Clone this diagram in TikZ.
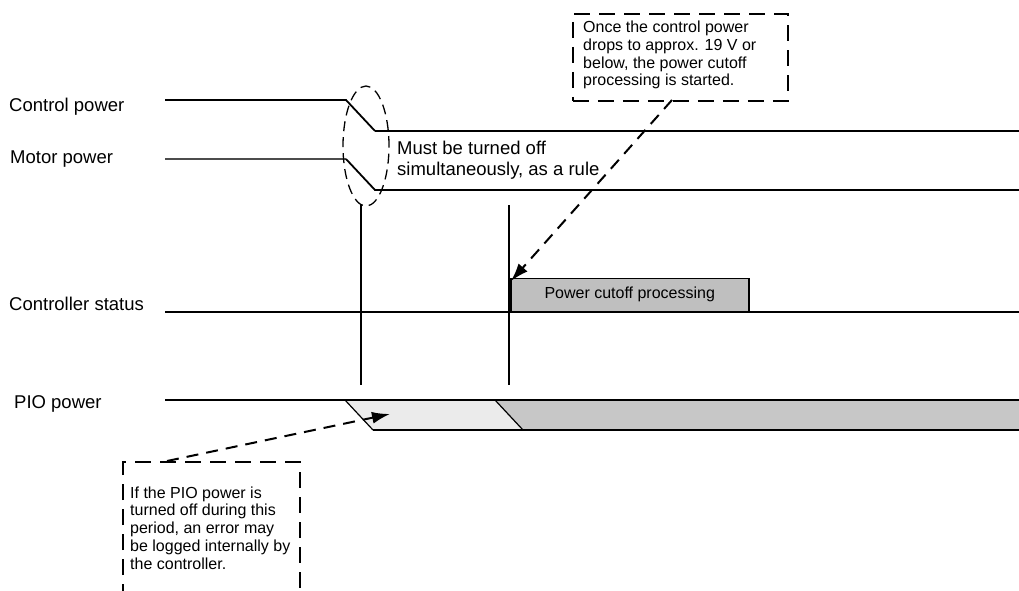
\documentclass[tikz,border=0pt]{standalone}
\usepackage{fontspec}
\setmainfont{Liberation Sans}
\usetikzlibrary{arrows.meta,shapes.geometric}
\begin{document}
\begin{tikzpicture}[x=1pt,y=-1pt,
  lbl/.style={anchor=west,inner sep=0pt,font=\fontsize{18.5}{21}\selectfont},
  note/.style={anchor=west,inner sep=0pt,align=left,font=\fontsize{16}{17.8}\selectfont},
  sig/.style={line width=1.8pt},
  thinsig/.style={line width=1.1pt,draw=black!70},
  callout/.style={line width=1.5pt,dash pattern=on 16pt off 9pt},
  pointer/.style={line width=2pt,dash pattern=on 12pt off 8pt,-{Latex[length=18pt,width=12pt]}},
  marker/.style={line width=1.2pt},
]
\path[use as bounding box] (0,0) rectangle (1019,590);
\clip (0,0) rectangle (1019,590);

% labels
\node[lbl] (lcp) at (9,107) {Control power};
\node[lbl] (lmp) at (10,159) {Motor power};
\node[lbl] (lcs) at (9,304) {Controller status};
\node[lbl] (lpio) at (14,404) {PIO power};

% coordinates
\coordinate (cp0) at (165,100); \coordinate (cp1) at (346,100);
\coordinate (cp2) at (375,131); \coordinate (cp3) at (1019,131);
\coordinate (mp0) at (165,159); \coordinate (mp1) at (346,159);
\coordinate (mp2) at (375,190); \coordinate (mp3) at (1019,190);
\coordinate (cs0) at (165,312); \coordinate (cs1) at (1019,312);
\coordinate (pp0) at (165,400); \coordinate (pp1) at (345,400);
\coordinate (pp2) at (373,430); \coordinate (pp3) at (1019,430);
\coordinate (pq1) at (495,400); \coordinate (pq2) at (523,430);
\coordinate (pp4) at (1019,400);

% PIO fills
\fill[black!8] (pp1) -- (pq1) -- (pq2) -- (pp2) -- cycle;
\fill[black!22] (pq1) -- (pp4) -- (pp3) -- (pq2) -- cycle;

% control power
\draw[sig] (cp0) -- (cp1) -- (cp2);
\draw[line width=1.3pt] (cp2) -- (cp3);
% motor power
\draw[thinsig] (mp0) -- (mp1);
\draw[sig] (mp1) -- (mp2) -- (mp3);
% controller status
\draw[sig] (cs0) -- (cs1);
% PIO power
\draw[sig] (pp0) -- (pp4);
\draw[marker] (pp1) -- (pp2);
\draw[sig] (pp2) -- (pp3);
\draw[marker] (pq1) -- (pq2);

% vertical markers
\coordinate (v1a) at (361,205); \coordinate (v1b) at (361,385);
\coordinate (v2a) at (509,205); \coordinate (v2b) at (509,385);
\draw[marker] (v1a) -- (v1b);
\draw[marker] (v2a) -- (v2b);

% power cutoff processing box
\node[draw,line width=1.5pt,fill=black!25,minimum width=238pt,minimum height=33pt,anchor=south west,inner sep=0pt,font=\fontsize{16}{18}\selectfont] (pcp) at (510,312) {Power cutoff processing};

% dashed ellipse
\node[draw,ellipse,line width=1.3pt,dash pattern=on 10pt off 6pt,minimum width=46pt,minimum height=120pt,inner sep=0pt] (ell) at (366,146) {};

\node[note,font=\fontsize{18.5}{20.5}\selectfont] (must) at (397,160) {Must be turned off\\simultaneously, as a rule};

% top callout
\node[draw,callout,minimum width=215pt,minimum height=87pt,anchor=north west,inner sep=0pt] (c1) at (572,13) {};
\node[note] (t1) at (583,55) {Once the control power\\drops to approx. 19 V or\\below, the power cutoff\\processing is started.};
\coordinate (a1s) at (672,100);
\coordinate (a1e) at (511,281);
\draw[pointer] (a1s) -- (a1e);

% bottom callout
\coordinate (b0) at (123,600); \coordinate (b1) at (123,462);
\coordinate (b2) at (300,462); \coordinate (b3) at (300,600);
\draw[callout] (b0) -- (b1) -- (b2) -- (b3);
\node[note] (t2) at (130,528) {If the PIO power is\\turned off during this\\period, an error may\\be logged internally by\\the controller.};
\coordinate (a2s) at (167,461);
\coordinate (a2e) at (390,414);
\draw[pointer] (a2s) -- (a2e);
\end{tikzpicture}
\end{document}
